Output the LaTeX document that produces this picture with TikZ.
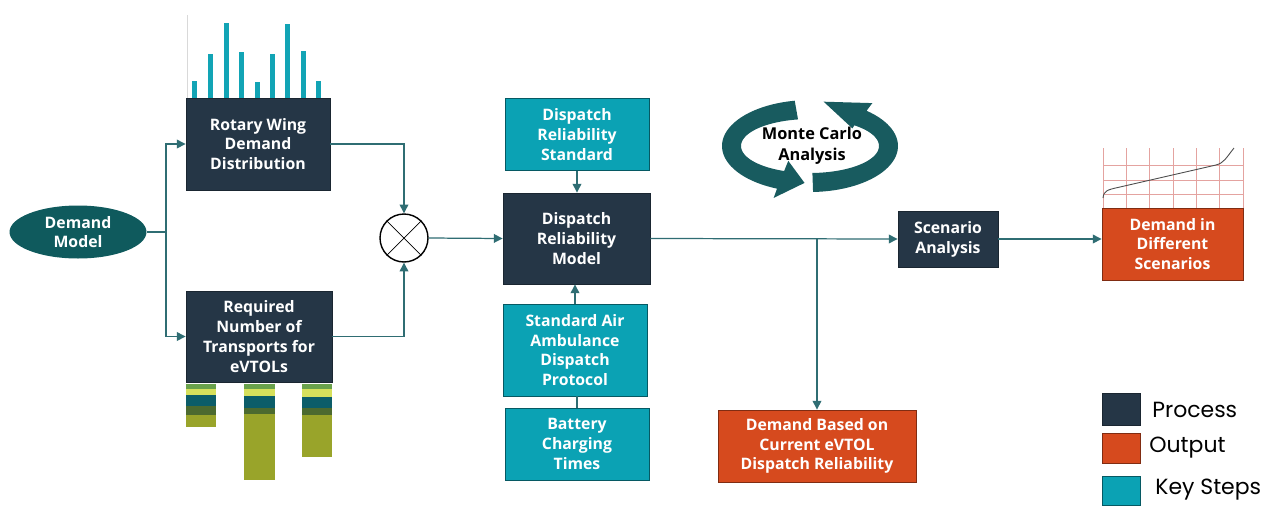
\documentclass[tikz,border=0pt]{standalone}
\usepackage{fontspec}
\setmainfont{Open Sans}
\newfontfamily\legendfont{Poppins}
\usetikzlibrary{arrows.meta,shapes.geometric}

\definecolor{procnavy}{HTML}{253646}
\definecolor{keyteal}{HTML}{0BA2B4}
\definecolor{outorange}{HTML}{D64A1E}
\definecolor{demteal}{HTML}{0F5A5D}
\definecolor{flowline}{HTML}{2F6D73}
\definecolor{barteal}{HTML}{12A4B5}
\definecolor{stkgreen}{HTML}{6AA24C}
\definecolor{stkyellow}{HTML}{D6E05C}
\definecolor{stkteal}{HTML}{0C5D69}
\definecolor{stkdark}{HTML}{4C6A2F}
\definecolor{stkolive}{HTML}{99A42A}
\definecolor{gridpink}{HTML}{E4A3A0}
\definecolor{mcteal}{HTML}{185B5F}

\begin{document}
\begin{tikzpicture}[x=0.02cm, y=-0.02cm,
  font=\fontsize{9}{11.3}\selectfont\bfseries,
  procbox/.style={draw=procnavy!70!black, line width=0.5pt, fill=procnavy, text=white, align=center, inner sep=0pt},
  keybox/.style={draw=keyteal!55!black, line width=0.5pt, fill=keyteal, text=white, align=center, inner sep=0pt},
  outbox/.style={draw=outorange!60!black, line width=0.5pt, fill=outorange, text=white, align=center, inner sep=0pt},
  demand/.style={ellipse, fill=demteal, text=white, align=center, inner sep=0pt, minimum width=2.74cm, minimum height=1.06cm},
  mixer/.style={circle, draw=black, line width=0.8pt, fill=white, minimum size=0.96cm, inner sep=0pt},
  flow/.style={draw=flowline, line width=0.7pt},
  arr/.style={flow, -{Triangle[length=5pt, width=5pt]}},
  lgtext/.style={anchor=west, inner sep=0pt, font=\legendfont\mdseries\fontsize{12.5}{14}\selectfont}]
  \path[use as bounding box, fill=white] (0,0) rectangle (1276,505);

  % Coordinates
  \coordinate (j1) at (166,232);
  \coordinate (j2) at (817,238.5);

  % Nodes
  \node[demand] (dm) at (78,232) {Demand\\Model};
  \node[procbox, minimum width=2.88cm, minimum height=1.84cm] (rw) at (258,144) {Rotary Wing\\Demand\\Distribution};
  \node[procbox, minimum width=2.92cm, minimum height=1.82cm] (rq) at (259,336.5) {Required\\Number of\\Transports for\\eVTOLs};
  \node[mixer] (mx) at (404,238) {};
  \node[keybox, minimum width=2.88cm, minimum height=1.44cm] (drs) at (577,134.5) {Dispatch\\Reliability\\Standard};
  \node[procbox, minimum width=2.94cm, minimum height=1.82cm] (drm) at (576.5,238.5) {Dispatch\\Reliability\\Model};
  \node[keybox, minimum width=2.88cm, minimum height=1.84cm] (saa) at (575,350) {Standard Air\\Ambulance\\Dispatch\\Protocol};
  \node[keybox, minimum width=2.88cm, minimum height=1.44cm] (bct) at (577,444) {Battery\\Charging\\Times};
  \node[outbox, minimum width=3.96cm, minimum height=1.44cm] (dbc) at (817,446) {Demand Based on\\Current eVTOL\\Dispatch Reliability};
  \node[procbox, minimum width=2.00cm, minimum height=1.12cm] (sa) at (948,239) {Scenario\\Analysis};
  \node[outbox, minimum width=2.82cm, minimum height=1.44cm] (ddf) at (1172.5,244) {Demand in\\Different\\Scenarios};

  % Connectors
  \draw[flow] (dm.east) -- (j1);
  \draw[arr] (j1) |- (rw.west);
  \draw[arr] (j1) |- (rq.west);
  \draw[arr] (rw.east) -| (mx.north);
  \draw[arr] (rq.east) -| (mx.south);
  \draw (mx.north east) -- (mx.south west);
  \draw (mx.north west) -- (mx.south east);
  \draw[arr] (mx.east) -- (drm.west);
  \draw[arr] (drs.south) -- (drs.south |- drm.north);
  \draw[arr] (saa.north) -- (saa.north |- drm.south);
  \draw[flow] (bct.north) -- (bct.north |- saa.south);
  \draw[arr] (drm.east) -- (sa.west);
  \draw[arr] (j2) -- (dbc.north);
  \draw[arr] (sa.east) -- (sa.east -| ddf.west);

  % Demand spikes over the rotary wing box
  \draw[black!15] (187,15) -- (187,98);
  \fill[barteal] (191.5,81) rectangle (196.5,98);
  \fill[barteal] (207.5,54) rectangle (212.5,98);
  \fill[barteal] (223.5,23) rectangle (228.5,98);
  \fill[barteal] (238.5,52) rectangle (243.5,98);
  \fill[barteal] (254.5,82) rectangle (259.5,98);
  \fill[barteal] (269.5,54) rectangle (274.5,98);
  \fill[barteal] (284.5,24) rectangle (289.5,98);
  \fill[barteal] (300.5,51) rectangle (305.5,98);
  \fill[barteal] (315.5,81) rectangle (320.5,98);

  % Stacked bars under the transports box
  \fill[stkgreen]  (186,384) rectangle (216,389);
  \fill[stkyellow] (186,389) rectangle (216,395);
  \fill[stkteal]   (186,395) rectangle (216,406);
  \fill[stkdark]   (186,406) rectangle (216,415);
  \fill[stkolive]  (186,415) rectangle (216,427);
  \fill[stkgreen]  (244,384) rectangle (275,389);
  \fill[stkyellow] (244,389) rectangle (275,396);
  \fill[stkteal]   (244,396) rectangle (275,408);
  \fill[stkdark]   (244,408) rectangle (275,414);
  \fill[stkolive]  (244,414) rectangle (275,480);
  \fill[stkgreen]  (302,384) rectangle (332,389);
  \fill[stkyellow] (302,389) rectangle (332,397);
  \fill[stkteal]   (302,397) rectangle (332,408);
  \fill[stkdark]   (302,408) rectangle (332,415);
  \fill[stkolive]  (302,415) rectangle (332,457);

  % Monte Carlo loop
  \fill[mcteal] plot[domain=260:112, samples=40] ({810+88*cos(\x)},{146+46*sin(\x)})
    -- ({810+97*cos(112)},{146+56*sin(112)}) -- ({810+78.5*cos(94)},{146+37*sin(94)})
    -- ({810+58*cos(112)},{146+16*sin(112)})
    -- plot[domain=112:260, samples=40] ({810+69*cos(\x)},{146+27*sin(\x)}) -- cycle;
  \fill[mcteal] plot[domain=88:-50, samples=40] ({810+88*cos(\x)},{146+46*sin(\x)})
    -- ({810+97*cos(-50)},{146+56*sin(-50)}) -- ({810+78.5*cos(-80)},{146+45*sin(-80)})
    -- ({810+66*cos(-50)},{146+23*sin(-50)})
    -- plot[domain=-50:88, samples=40] ({810+69*cos(\x)},{146+27*sin(\x)}) -- cycle;
  \node[align=center, font=\fontsize{9.3}{12}\selectfont\bfseries] (mc) at (812,146) {Monte Carlo\\Analysis};

  % Scenario curve over its grid
  \draw[gridpink, line width=0.5pt] (1103,148) -- (1103,208);
  \draw[gridpink, line width=0.5pt] (1126,148) -- (1126,208);
  \draw[gridpink, line width=0.5pt] (1149,148) -- (1149,208);
  \draw[gridpink, line width=0.5pt] (1173,148) -- (1173,208);
  \draw[gridpink, line width=0.5pt] (1196,148) -- (1196,208);
  \draw[gridpink, line width=0.5pt] (1219,148) -- (1219,208);
  \draw[gridpink, line width=0.5pt] (1243,148) -- (1243,208);
  \draw[gridpink, line width=0.5pt] (1103,165) -- (1243,165);
  \draw[gridpink, line width=0.5pt] (1103,180) -- (1243,180);
  \draw[gridpink, line width=0.5pt] (1103,194.5) -- (1243,194.5);
  \draw[black!70, line width=0.5pt] (1103,198) .. controls (1104,191) and (1106,190) .. (1120,187)
    -- (1216,165) .. controls (1224,163) and (1226,158) .. (1234,148);

  % Legend
  \node[procbox, minimum width=0.76cm, minimum height=0.64cm] (lgp) at (1121,409) {};
  \node[outbox, minimum width=0.76cm, minimum height=0.60cm] (lgo) at (1121,448) {};
  \node[keybox, minimum width=0.76cm, minimum height=0.58cm] (lgk) at (1121,490.5) {};
  \node[lgtext] (lgpt) at (1152,410) {Process};
  \node[lgtext] (lgot) at (1149,448) {Output};
  \node[lgtext] (lgkt) at (1155,490) {Key Steps};
\end{tikzpicture}
\end{document}
